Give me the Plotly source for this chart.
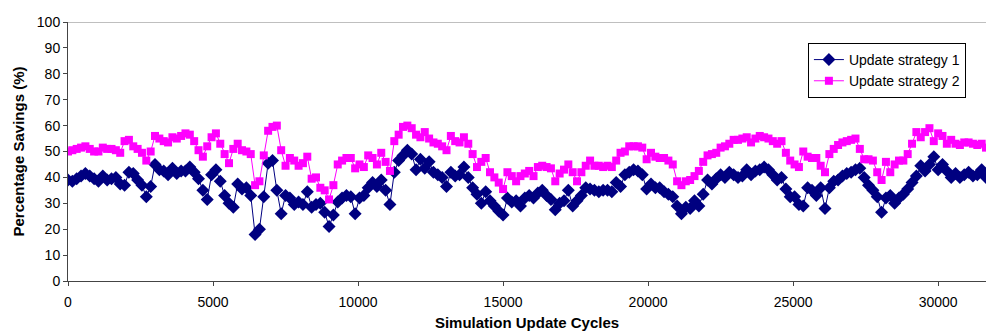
import plotly.graph_objects as go

step = 150
cycles = [i * step for i in range(212)]

strategy1 = [
    39, 38.5, 39.5, 40.5, 41.5, 40.5, 39.5, 38.5, 40.5, 39,
    39.5, 40, 37.5, 37, 42, 41.5, 39, 37, 32.5, 36.5,
    45, 43, 42.5, 41, 43.5, 41.5, 42.5, 42.5, 44, 42,
    39.5, 35, 31.5, 41, 43, 38.5, 33, 30, 28.5, 37.5,
    35.5, 36, 33, 18, 20, 32.5, 45.5, 46.5, 35, 26,
    33, 32, 29.5, 30.5, 29.5, 34.5, 28.5, 29.5, 30, 26.5,
    21, 25.5, 30.5, 32, 33, 32.5, 26, 32, 33, 36,
    38, 36.5, 39, 35, 29.5, 42, 46.5, 48.5, 50.5, 49,
    43, 47, 43.5, 46, 42, 41, 40, 36.5, 42, 40.5,
    41, 44, 40, 36, 33.5, 30, 34.5, 31, 29, 27,
    25.5, 32, 30.5, 31, 29, 32, 33, 32, 34, 35,
    33, 31.5, 27.5, 30, 31, 35, 29, 31, 33, 36,
    35.5, 35, 34.5, 35, 35, 34.5, 38, 36.5, 41, 42,
    43, 42.5, 41, 35.5, 37.5, 36, 36, 34.5, 33.5, 32.5,
    29, 26, 28.5, 28, 31, 29, 33.5, 39, 37.5, 39.5,
    41, 40, 42, 41, 40, 40.5, 43, 41, 42.5, 43,
    44, 43, 41, 39, 40, 35.5, 32.5, 32.5, 29.5, 29,
    36, 35, 33, 36, 28, 36, 38.5, 39, 40.5, 41.5,
    42, 43, 43.5, 40, 37, 35, 32.5, 26.5, 32, 33,
    30, 32, 33.5, 35.5, 38, 40.5, 44.5, 42.5, 45, 48,
    43, 45, 42.5, 40, 41.5, 40, 41, 42, 40.5, 41,
    43, 40,
]

strategy2 = [
    50, 50.5, 51, 51.5, 52, 51, 50, 50, 51.5, 51,
    51, 50.5, 49.5, 54, 54.5, 52, 51, 49.5, 46.5, 50,
    56, 55, 54, 53.5, 55.5, 55, 56, 57, 56.5, 54,
    50.5, 48, 52, 55.5, 57, 53, 49, 45.5, 51, 53,
    50.5, 50, 49, 37, 38.5, 48.5, 58, 59.5, 60, 50.5,
    44.5, 47.5, 46.5, 44.5, 45.5, 48, 39.5, 40, 36, 35,
    31.5, 37, 45, 46.5, 47.5, 47.5, 43.5, 45, 44, 48.5,
    47.5, 45, 49.5, 46, 42.5, 54, 56.5, 59.5, 60, 59,
    56.5, 55.5, 57.5, 55, 53.5, 53, 52, 50.5, 56, 54,
    53.5, 55.5, 53, 49, 44, 46, 47.5, 42, 40, 38,
    35.5, 42, 40.5, 38.5, 40.5, 41.5, 42.5, 40.5, 44, 44.5,
    44, 43.5, 38.5, 41.5, 43, 45, 42, 38.5, 42, 44.5,
    46.5, 44.5, 44.5, 44, 44.5, 44, 46.5, 49.5, 50, 52,
    52, 52, 51.5, 47, 49.5, 48, 47.5, 47.5, 46.5, 45,
    38.5, 37, 38.5, 39, 40.5, 42.5, 46, 48.5, 49, 49.5,
    51.5, 52, 53, 54.5, 54.5, 55, 55.5, 53.5, 55, 56,
    55.5, 55, 54, 53, 54, 49.5, 46.5, 45, 44, 50,
    48, 47.5, 47.5, 44.5, 42, 49, 51, 52.5, 53.5, 54,
    54.5, 55, 51, 47, 47, 46.5, 42, 39, 46, 42,
    45, 46.5, 46.5, 49, 53, 57.5, 55.5, 57.5, 59, 54,
    57, 56, 53, 54.5, 53, 52.5, 53.5, 53.5, 53, 52.5,
    53, 51.5,
]

x_ticks = [0, 5000, 10000, 15000, 20000, 25000, 30000]
series_names = ["Update strategy 1", "Update strategy 2"]

FONT = "Arial, Liberation Sans, sans-serif"

fig = go.Figure()
fig.add_trace(go.Scatter(
    x=cycles, y=strategy1, name=series_names[0], mode="lines+markers",
    line=dict(color="#000080", width=1),
    marker=dict(symbol="diamond", size=10, color="#000080"),
))
fig.add_trace(go.Scatter(
    x=cycles, y=strategy2, name=series_names[1], mode="lines+markers",
    line=dict(color="#FF00FF", width=1),
    marker=dict(symbol="square", size=8, color="#FF00FF"),
))

fig.update_layout(
    width=986, height=331,
    margin=dict(l=68, r=0, t=22, b=50),
    paper_bgcolor="white", plot_bgcolor="white",
    font=dict(family=FONT, size=14, color="black"),
    showlegend=True,
    legend=dict(
        x=0.806, y=0.919, xanchor="left", yanchor="top",
        bgcolor="white", bordercolor="black", borderwidth=1,
        font=dict(family=FONT, size=14, color="black"),
        tracegroupgap=0, itemwidth=30,
    ),
    xaxis=dict(
        range=[0, 31650], tickvals=x_ticks, ticktext=[str(v) for v in x_ticks],
        showgrid=False, zeroline=False, showline=True, linecolor="#444444", linewidth=1,
        ticks="outside", ticklen=4, tickcolor="#444444",
        tickfont=dict(size=14), ticklabelstandoff=4,
        title=dict(text="<b>Simulation Update Cycles</b>", font=dict(size=15), standoff=10),
        automargin=False,
    ),
    yaxis=dict(
        range=[0, 100], dtick=10, tick0=0,
        showgrid=False, zeroline=False, showline=True, linecolor="#444444", linewidth=1,
        ticks="outside", ticklen=4, tickcolor="#444444",
        tickfont=dict(size=14),
        title=dict(text="<b>Percentage Savings (%)</b>", font=dict(size=15), standoff=8),
        automargin=False,
    ),
    shapes=[dict(type="line", xref="paper", yref="y", x0=0, x1=1, y0=100, y1=100,
                 line=dict(color="#808080", width=1))],
)

fig.write_html("out.html")
